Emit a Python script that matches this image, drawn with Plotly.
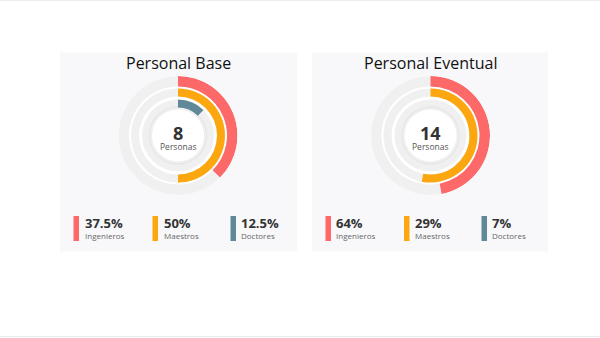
import plotly.graph_objects as go

W, H = 600, 338

# ---- data ----
panel_titles = ["Personal Base", "Personal Eventual"]
totals = ["8", "14"]
categories = ["Ingenieros", "Maestros", "Doctores"]
labels_base = ["37.5%", "50%", "12.5%"]
labels_eventual = ["64%", "29%", "7%"]
arc_base = [37.5, 50, 12.5]        # arc extent (% of full circle) as drawn
arc_eventual = [47, 53, 0]         # arc extent (% of full circle) as drawn

colors = ["#fd6868", "#fca710", "#5f8898"]
track_color = "#f0f0f0"
panel_color = "#f8f8fa"

# ---- geometry (pixels) ----
R = 59.5
centers = [(178, 135.5), (430.5, 135.5)]
rings = [(49, 59.5), (39, 47), (28, 36)]   # (inner, outer) radius per category
legend_bar_x = [[73.5, 152.5, 230.5], [325.5, 404, 481.5]]
legend_text_x = [[85, 164, 241], [336, 415, 492]]

def px(x):
    return x / W

def py(y):
    return 1 - y / H

fig = go.Figure()

all_arcs = [arc_base, arc_eventual]
all_labels = [labels_base, labels_eventual]

for p in range(2):
    pname = "polar" if p == 0 else "polar2"
    cx, cy = centers[p]
    fig.add_trace(go.Barpolar(r=[R - 26], base=[26], theta=[180], width=[360],
                              marker=dict(color="white", line=dict(width=0)),
                              subplot=pname, hoverinfo="skip", showlegend=False))
    for (r0, r1) in rings:
        fig.add_trace(go.Barpolar(r=[r1 - r0], base=[r0], theta=[180], width=[360],
                                  marker=dict(color=track_color, line=dict(width=0)),
                                  subplot=pname, hoverinfo="skip", showlegend=False))
    for (r0, r1, c) in [(27.5, 29.5, "rgba(0,0,0,0.025)"), (26.5, 28.5, "rgba(0,0,0,0.04)"),
                        (25.5, 27.0, "rgba(0,0,0,0.05)")]:
        fig.add_trace(go.Barpolar(r=[r1 - r0], base=[r0], theta=[180], width=[360],
                                  marker=dict(color=c, line=dict(width=0)),
                                  subplot=pname, hoverinfo="skip", showlegend=False))
    for i, cat in enumerate(categories):
        v = all_arcs[p][i]
        r0, r1 = rings[i]
        if v <= 0:
            continue
        fig.add_trace(go.Barpolar(r=[r1 - r0], base=[r0], theta=[v * 3.6 / 2], width=[v * 3.6],
                                  marker=dict(color=colors[i], line=dict(width=0)),
                                  name=cat, subplot=pname, hoverinfo="skip", showlegend=False))
    fig.add_trace(go.Barpolar(r=[26], base=[0], theta=[180], width=[360],
                              marker=dict(color="white", line=dict(width=0)),
                              subplot=pname, hoverinfo="skip", showlegend=False))

    polar_cfg = dict(
        domain=dict(x=[px(cx - R), px(cx + R)], y=[py(cy + R), py(cy - R)]),
        bgcolor="rgba(0,0,0,0)",
        radialaxis=dict(range=[0, R], visible=False, showgrid=False),
        angularaxis=dict(visible=False, showgrid=False, rotation=90, direction="clockwise"),
        barmode="overlay",
    )
    if p == 0:
        fig.update_layout(polar=polar_cfg)
    else:
        fig.update_layout(polar2=polar_cfg)

shapes = []
panels = [(60, 297), (312, 548)]
for (x0, x1) in panels:
    shapes.append(dict(type="rect", xref="paper", yref="paper", x0=px(x0), x1=px(x1),
                       y0=py(251.5), y1=py(52.5), fillcolor=panel_color, line=dict(width=0),
                       layer="below"))
shapes.append(dict(type="line", xref="paper", yref="paper", x0=0, x1=1, y0=py(0.5), y1=py(0.5),
                   line=dict(color="#ececec", width=1)))
shapes.append(dict(type="line", xref="paper", yref="paper", x0=0, x1=1, y0=py(336.5), y1=py(336.5),
                   line=dict(color="#ececec", width=1)))

annotations = []
for p in range(2):
    cx, cy = centers[p]
    annotations.append(dict(text=panel_titles[p], x=px(cx), y=py(63), xref="paper", yref="paper",
                            showarrow=False, xanchor="center", yanchor="middle",
                            font=dict(family="Open Sans", size=16, color="#111111")))
    annotations.append(dict(text="<b>" + totals[p] + "</b>", x=px(cx), y=py(133), xref="paper",
                            yref="paper", showarrow=False, xanchor="center", yanchor="middle",
                            font=dict(family="Open Sans", size=18, color="#333333")))
    annotations.append(dict(text="Personas", x=px(cx), y=py(146.5), xref="paper", yref="paper",
                            showarrow=False, xanchor="center", yanchor="middle",
                            font=dict(family="Open Sans", size=8.5, color="#555555")))
    for i, cat in enumerate(categories):
        bx = legend_bar_x[p][i]
        shapes.append(dict(type="rect", xref="paper", yref="paper", x0=px(bx), x1=px(bx + 5.5),
                           y0=py(241), y1=py(216), fillcolor=colors[i], line=dict(width=0)))
        tx = legend_text_x[p][i]
        annotations.append(dict(text="<b>" + all_labels[p][i] + "</b>", x=px(tx - 1), y=py(223.3),
                                xref="paper", yref="paper", showarrow=False, xanchor="left",
                                yanchor="middle", borderpad=0,
                                font=dict(family="Open Sans", size=13, color="#333333")))
        annotations.append(dict(text=cat, x=px(tx - 1), y=py(235.2), xref="paper", yref="paper",
                                showarrow=False, xanchor="left", yanchor="middle", borderpad=0,
                                font=dict(family="Open Sans", size=8, color="#666666")))

fig.update_layout(width=W, height=H, margin=dict(l=0, r=0, t=0, b=0),
                  paper_bgcolor="white", plot_bgcolor="white",
                  shapes=shapes, annotations=annotations, showlegend=False)

fig.write_html("out.html")
